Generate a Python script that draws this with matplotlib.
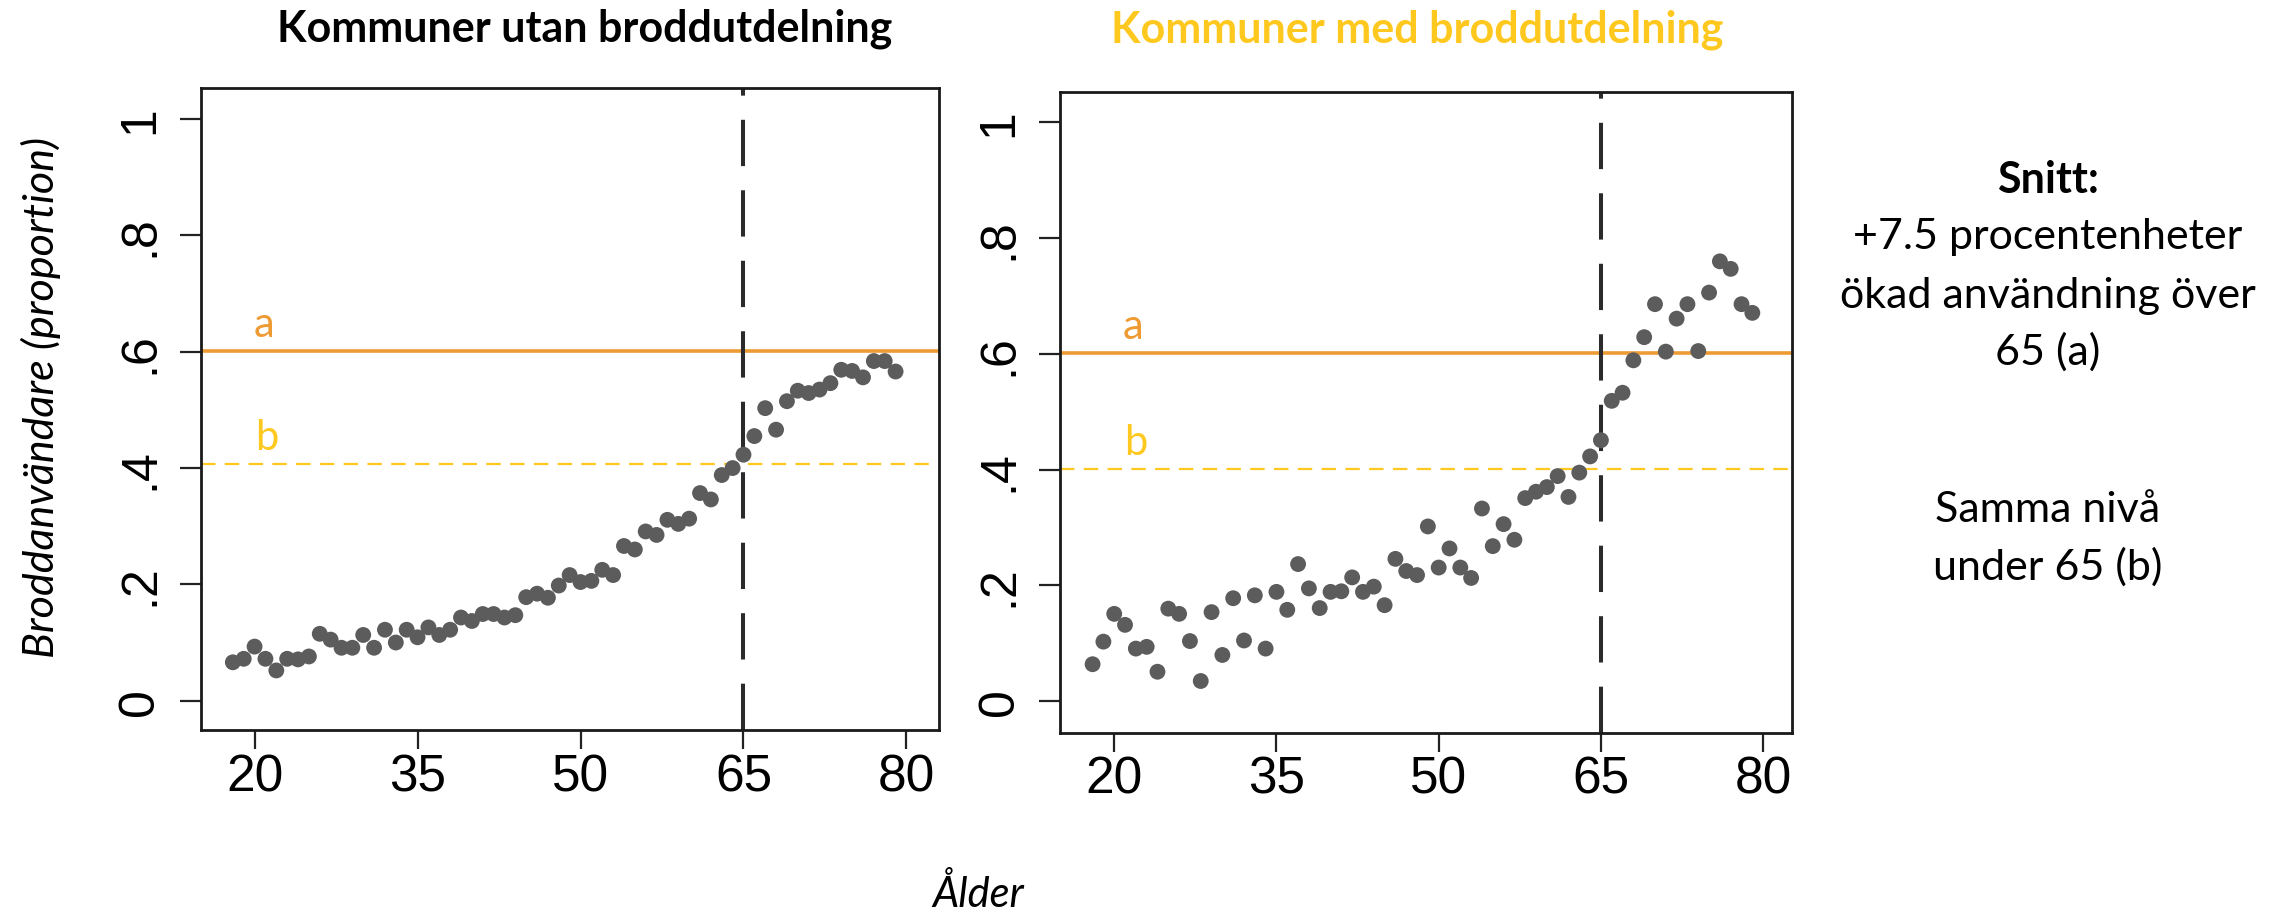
import matplotlib
matplotlib.use("Agg")
import matplotlib.pyplot as plt

# Andel broddanvändare per ålder, avläst ur originalbilden
AGES = list(range(18, 80))
UTAN = [0.066, 0.072, 0.093, 0.072, 0.052, 0.072, 0.071, 0.076, 0.115, 0.105,
        0.091, 0.091, 0.113, 0.091, 0.122, 0.100, 0.122, 0.109, 0.126, 0.113,
        0.122, 0.143, 0.137, 0.149, 0.149, 0.143, 0.147, 0.178, 0.184, 0.177,
        0.198, 0.216, 0.204, 0.206, 0.225, 0.216, 0.266, 0.260, 0.291, 0.285,
        0.311, 0.304, 0.313, 0.357, 0.346, 0.388, 0.400, 0.423, 0.455, 0.503,
        0.466, 0.515, 0.533, 0.529, 0.535, 0.546, 0.569, 0.567, 0.556, 0.584,
        0.584, 0.566]
MED = [0.064, 0.103, 0.151, 0.132, 0.091, 0.094, 0.051, 0.160, 0.151, 0.104,
       0.035, 0.154, 0.080, 0.178, 0.105, 0.183, 0.091, 0.189, 0.158, 0.237,
       0.195, 0.161, 0.189, 0.190, 0.214, 0.189, 0.198, 0.166, 0.246, 0.225,
       0.218, 0.302, 0.231, 0.264, 0.231, 0.213, 0.333, 0.268, 0.306, 0.279,
       0.351, 0.362, 0.370, 0.389, 0.353, 0.395, 0.423, 0.451, 0.519, 0.533,
       0.589, 0.629, 0.686, 0.604, 0.661, 0.686, 0.605, 0.706, 0.760, 0.747,
       0.686, 0.671]

LEVEL_A = {"utan": 0.601, "med": 0.601}
LEVEL_B = {"utan": 0.407, "med": 0.402}
CUTOFF = 65

X_TICKS = [20, 35, 50, 65, 80]
Y_TICKS = [0, 0.2, 0.4, 0.6, 0.8, 1]
Y_TICK_LABELS = ["0", ".2", ".4", ".6", ".8", "1"]

TITLES = ["Kommuner utan broddutdelning", "Kommuner med broddutdelning"]
SIDE_TOP = ["Snitt:", "+7.5 procentenheter", "ökad användning över", "65 (a)"]
SIDE_BOTTOM = ["Samma nivå", "under 65 (b)"]

ORANGE = "#EE9B33"
YELLOW = "#FFC81E"
DOT = "#5C5C5C"
TEXT_FONT = ["Lato", "DejaVu Sans"]
TICK_FONT = ["Liberation Sans", "DejaVu Sans"]

fig = plt.figure(figsize=(22.74, 9.12), dpi=100)
ax_utan = fig.add_axes([0.0883, 0.1981, 0.3246, 0.7046])
ax_med = fig.add_axes([0.4662, 0.1957, 0.3219, 0.7023])

panels = [
    (ax_utan, UTAN, "utan", (15.05, 82.99), (-0.051, 1.054), (20.9, 21.15)),
    (ax_med, MED, "med", (15.0, 82.68), (-0.054, 1.0525), (21.7, 21.95)),
]

for ax, values, key, xlim, ylim, label_x in panels:
    ax.axhline(LEVEL_A[key], color=ORANGE, lw=2.6, zorder=1)
    ax.axhline(LEVEL_B[key], color=YELLOW, lw=1.6, dashes=(6.5, 4.2), zorder=1)
    ax.axvline(CUTOFF, color="#2b2b2b", lw=2.9, dashes=(11.5, 6.0), zorder=2)
    ax.scatter(AGES, values, s=130, color=DOT, edgecolors="none", zorder=3)

    ax.text(label_x[0], LEVEL_A[key] + 0.026, "a", color=ORANGE, ha="center",
            va="baseline", fontsize=30, family=TEXT_FONT)
    ax.text(label_x[1], LEVEL_B[key] + 0.026, "b", color=YELLOW, ha="center",
            va="baseline", fontsize=30, family=TEXT_FONT)

    ax.set_xlim(*xlim)
    ax.set_ylim(*ylim)
    ax.set_xticks(X_TICKS)
    ax.set_xticklabels([str(t) for t in X_TICKS], family=TICK_FONT, fontsize=37)
    ax.set_yticks(Y_TICKS)
    ax.set_yticklabels(Y_TICK_LABELS, family=TICK_FONT, fontsize=36,
                       rotation=90, va="center")
    ax.tick_params(axis="x", length=14, width=1.6, pad=2, color="#222222")
    ax.tick_params(axis="y", length=15, width=1.6, pad=12, color="#222222")
    for spine in ax.spines.values():
        spine.set_linewidth(2.0)
        spine.set_color("#1a1a1a")

fig.text(0.2573, 0.9543, TITLES[0], ha="center", va="baseline", fontsize=31,
         fontweight="bold", family=TEXT_FONT, color="black")
fig.text(0.6234, 0.9532, TITLES[1], ha="center", va="baseline", fontsize=31,
         fontweight="bold", family=TEXT_FONT, color=YELLOW)

fig.text(0.018, 0.5643, "Broddanvändare (proportion)", rotation=90,
         ha="center", va="center", fontsize=31, style="italic", family=TEXT_FONT)
fig.text(0.4303, 0.005, "Ålder", ha="center", va="baseline", fontsize=30,
         style="italic", family=TEXT_FONT)

# sidotext till höger
top_baselines = [0.788, 0.7267, 0.6626, 0.5998]
for i, (line, yb) in enumerate(zip(SIDE_TOP, top_baselines)):
    fig.text(0.9006, yb, line, ha="center", va="baseline", fontsize=31,
             fontweight="bold" if i == 0 else "normal", family=TEXT_FONT)
for line, yb in zip(SIDE_BOTTOM, [0.428, 0.364]):
    fig.text(0.9006, yb, line, ha="center", va="baseline", fontsize=31,
             family=TEXT_FONT)

fig.savefig("out.png", dpi=100, facecolor="white")
